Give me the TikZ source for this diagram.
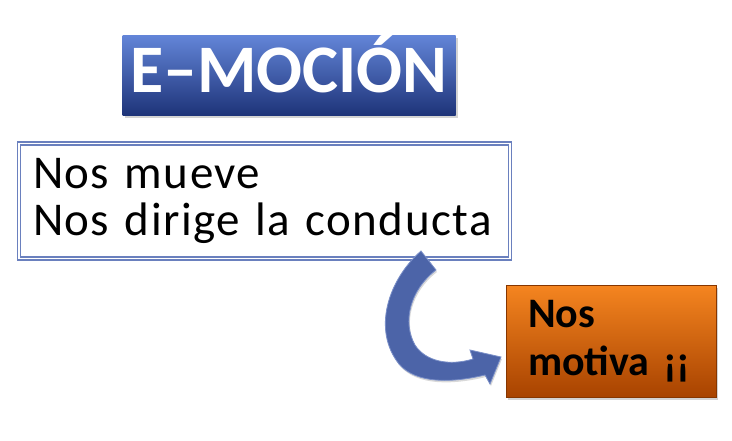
\documentclass[tikz,border=0pt]{standalone}
\usepackage{fontspec}
\setmainfont{Carlito}
\newfontfamily\widefont[LetterSpace=3]{Carlito}
\usetikzlibrary{shadows}

\definecolor{titletop}{HTML}{6385D8}
\definecolor{titlebot}{HTML}{1E3479}
\definecolor{framecol}{HTML}{6A80BE}
\definecolor{orangetop}{HTML}{F58520}
\definecolor{orangebot}{HTML}{A84300}
\definecolor{arrowcol}{HTML}{4C64A8}
\definecolor{arrowline}{HTML}{7A8FC8}

\tikzset{
    titlebox/.style={rectangle, top color=titletop, bottom color=titlebot,
        text=white, font=\fontsize{68}{68}\selectfont\bfseries,
        minimum width=333pt, minimum height=80pt, inner sep=0pt,
        text height=43pt, text depth=9pt,
        drop shadow={opacity=0.35, shadow xshift=2pt, shadow yshift=-3pt}},
    textbox/.style={rectangle, draw=framecol, line width=1.3pt, double=white,
        double distance=1.6pt, fill=white, align=left,
        font=\fontsize{47}{45}\widefont, text width=463pt,
        minimum height=115pt, inner xsep=14pt, inner ysep=0pt},
    motivebox/.style={rectangle, top color=orangetop, bottom color=orangebot,
        draw=orangebot!80!black, line width=0.3pt, align=left,
        font=\fontsize{42}{48}\selectfont\bfseries, text width=166pt,
        minimum width=205pt, minimum height=112pt, inner xsep=22pt,
        drop shadow={opacity=0.35, shadow xshift=2pt, shadow yshift=-3pt}},
}

\begin{document}
\begin{tikzpicture}[x=1pt, y=-1pt]
    \useasboundingbox (0,0) rectangle (732,440);

    \node[titlebox] (title) at (289,75) {E--MOCIÓN};
    \node[textbox] (mueve) at (264.5,201) {\raisebox{2pt}{Nos mueve}\\Nos dirige la conducta\par\vspace{6pt}};
    \node[motivebox] (motiva) at (611,341) {Nos\\motiva ¡¡\par\vspace{7pt}};

    % curved block arrow
    \fill[arrowcol, draw=arrowline, line width=0.8pt,
          drop shadow={opacity=0.3, shadow xshift=1pt, shadow yshift=-2pt}]
        (421,251) .. controls (388,280) and (372,330) .. (399,364)
        .. controls (416,384) and (452,383) .. (485,375)
        -- (490,384) -- (501,357) -- (470,350) -- (473,359)
        .. controls (450,366) and (426,362) .. (415,345)
        .. controls (402,322) and (410,290) .. (436,270) -- cycle;
\end{tikzpicture}
\end{document}
